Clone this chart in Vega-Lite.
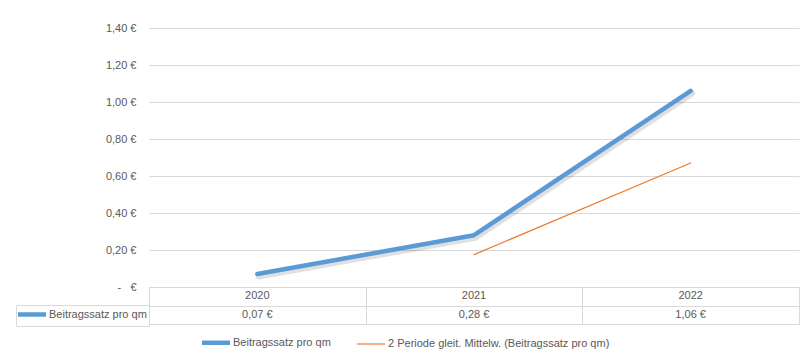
{
  "$schema": "https://vega.github.io/schema/vega-lite/v6.json",
  "padding": {"left": 15, "top": 22, "right": 5, "bottom": 5},
  "background": "white",
  "bounds": "flush",
  "config": {
    "font": "Liberation Sans",
    "locale": {"number": {"decimal": ",", "thousands": ".", "grouping": [3], "currency": ["", " €"]}},
    "axis": {"labelFont": "Liberation Sans", "labelFontSize": 11, "labelColor": "#595959", "gridColor": "#d9d9d9", "gridOpacity": 1, "domainColor": "#d9d9d9"},
    "legend": {"labelFont": "Liberation Sans", "labelFontSize": 11, "labelColor": "#595959", "labelLimit": 400},
    "view": {"stroke": null},
    "concat": {"spacing": 0}
  },
  "datasets": {
    "series": [
      {"year": "2020", "serie": "Beitragssatz pro qm", "value": 0.07},
      {"year": "2021", "serie": "Beitragssatz pro qm", "value": 0.28},
      {"year": "2022", "serie": "Beitragssatz pro qm", "value": 1.06},
      {"year": "2021", "serie": "2 Periode gleit. Mittelw. (Beitragssatz pro qm)", "value": 0.175},
      {"year": "2022", "serie": "2 Periode gleit. Mittelw. (Beitragssatz pro qm)", "value": 0.67}
    ]
  },
  "resolve": {
    "scale": {"x": "independent", "y": "independent", "color": "independent", "strokeWidth": "independent"},
    "legend": {"color": "independent", "strokeWidth": "independent"}
  },
  "vconcat": [
    {
      "width": 650,
      "height": 259,
      "data": {"name": "series"},
      "encoding": {
        "x": {"field": "year", "type": "ordinal", "scale": {"type": "point", "padding": 0.5}, "axis": null},
        "y": {
          "field": "value", "type": "quantitative",
          "scale": {"domain": [0, 1.4], "nice": false, "zero": true},
          "axis": {"title": null, "values": [0, 0.2, 0.4, 0.6, 0.8, 1.0, 1.2, 1.4], "format": "$.2f", "labelExpr": "datum.value == 0 ? '-\u00a0\u00a0\u00a0€' : datum.label", "domain": false, "ticks": false, "labelPadding": 13, "grid": true}
        }
      },
      "layer": [
        {
          "transform": [{"filter": "datum.serie === 'Beitragssatz pro qm'"}],
          "mark": {"type": "line", "color": "#000000", "opacity": 0.12, "strokeWidth": 6, "xOffset": 1.5, "yOffset": 2.5, "strokeCap": "round", "strokeJoin": "round"}
        },
        {
          "mark": {"type": "line", "strokeCap": "round", "strokeJoin": "round"},
          "encoding": {
            "color": {
              "field": "serie", "type": "nominal",
              "scale": {"domain": ["Beitragssatz pro qm", "2 Periode gleit. Mittelw. (Beitragssatz pro qm)"], "range": ["#5B9BD5", "#ED7D31"]},
              "legend": {"title": null, "orient": "none", "legendX": 53, "legendY": 307, "direction": "horizontal", "columns": 2, "symbolType": "M-1.5,0H4.1", "symbolSize": 100, "labelOffset": 16, "columnPadding": 23, "padding": 0}
            },
            "strokeWidth": {
              "field": "serie", "type": "nominal",
              "scale": {"domain": ["Beitragssatz pro qm", "2 Periode gleit. Mittelw. (Beitragssatz pro qm)"], "range": [4.5, 1.2]},
              "legend": {"title": null, "orient": "none", "legendX": 53, "legendY": 307, "direction": "horizontal", "columns": 2, "symbolType": "M-1.5,0H4.1", "symbolSize": 100, "labelOffset": 16, "columnPadding": 23, "padding": 0}
            }
          }
        }
      ]
    },
    {
      "width": 650,
      "height": 37,
      "view": {"stroke": "#d9d9d9"},
      "encoding": {
        "x": {"field": "year", "type": "ordinal", "scale": {"type": "band", "paddingInner": 0, "paddingOuter": 0}, "axis": {"title": null, "labels": false, "ticks": false, "domain": false, "grid": true, "tickBand": "extent", "orient": "top"}}
      },
      "layer": [
        {
          "data": {"name": "series"},
          "transform": [{"filter": "datum.serie === 'Beitragssatz pro qm'"}],
          "mark": {"type": "text", "color": "#595959", "font": "Liberation Sans", "fontSize": 11},
          "encoding": {
            "y": {"datum": "top", "type": "ordinal", "scale": {"type": "band", "domain": ["top", "bottom"], "paddingInner": 0, "paddingOuter": 0}, "axis": {"title": null, "labels": false, "ticks": false, "domain": false, "grid": true, "tickBand": "extent"}},
            "text": {"field": "year", "type": "nominal"}
          }
        },
        {
          "data": {"name": "series"},
          "transform": [{"filter": "datum.serie === 'Beitragssatz pro qm'"}],
          "mark": {"type": "text", "color": "#595959", "font": "Liberation Sans", "fontSize": 11},
          "encoding": {
            "y": {"datum": "bottom", "type": "ordinal"},
            "text": {"field": "value", "type": "quantitative", "format": "$.2f"}
          }
        },
        {
          "data": {"values": [{"year": "2020"}]},
          "mark": {"type": "line", "strokeCap": "butt"},
          "encoding": {
            "y": {"datum": "top", "type": "ordinal"},
            "color": {
              "datum": "Beitragssatz pro qm", "type": "nominal",
              "scale": {"domain": ["Beitragssatz pro qm"], "range": ["#5B9BD5"]},
              "legend": {"title": null, "orient": "none", "legendX": -133, "legendY": 18, "symbolType": "M-1.5,0H4.1", "symbolSize": 100, "symbolStrokeWidth": 4.5, "labelOffset": 16, "padding": 2, "strokeColor": "#d9d9d9"}
            }
          }
        }
      ]
    }
  ]
}
